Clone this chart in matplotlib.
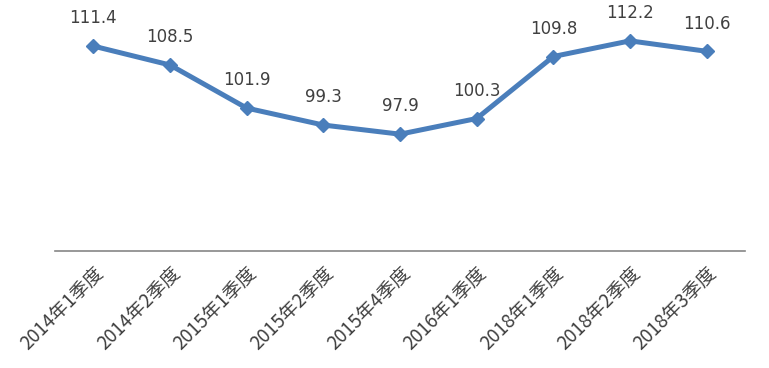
import matplotlib.pyplot as plt

plt.rcParams['font.family'] = ['Noto Sans CJK SC', 'DejaVu Sans']

quarters = ['2014年1季度', '2014年2季度', '2015年1季度', '2015年2季度', '2015年4季度',
            '2016年1季度', '2018年1季度', '2018年2季度', '2018年3季度']
values = [111.4, 108.5, 101.9, 99.3, 97.9, 100.3, 109.8, 112.2, 110.6]

fig = plt.figure(figsize=(7.69, 3.68), dpi=100)
ax = fig.add_axes([55 / 769, 117 / 368, 690 / 769, 248 / 368])

x = range(len(values))
ax.plot(x, values, color='#4a7ebb', lw=3.6, marker='D', ms=7.5, zorder=3)

for i, v in enumerate(values):
    ax.annotate(f'{v}', (i, v), xytext=(0, 20), textcoords='offset points',
                ha='center', va='center', fontsize=12, color='#404040',
                family=['DejaVu Sans'])

ax.set_xlim(-0.5, len(values) - 0.5)
ax.set_ylim(80, 118)
ax.set_xticks(list(x))
ax.set_xticklabels(quarters, rotation=45, ha='right', rotation_mode='anchor',
                   fontsize=13.5, color='#404040')
ax.tick_params(axis='x', length=0, pad=9)
ax.set_yticks([])
for s in ['top', 'right', 'left']:
    ax.spines[s].set_visible(False)
ax.spines['bottom'].set_color('#868686')
ax.spines['bottom'].set_linewidth(1.2)

fig.savefig('out.png', dpi=100)
